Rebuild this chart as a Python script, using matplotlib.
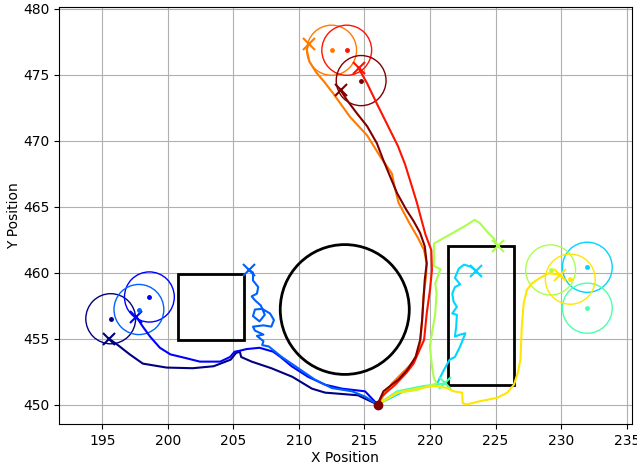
import numpy as np
import matplotlib
matplotlib.use("Agg")
import matplotlib.pyplot as plt
from matplotlib.patches import Circle, Rectangle

# start point shared by all agents
start = (216.0, 450.0)

# goal centres (one per agent, jet order)
goal_x = [195.65, 198.6, 197.8, 232.0, 232.0, 229.2, 230.7, 212.5, 213.65, 214.75]
goal_y = [456.5, 458.15, 457.2, 460.4, 457.3, 460.2, 459.5, 476.85, 476.85, 474.55]
goal_r = 1.9

# static obstacles
obs_circle = (213.5, 457.2, 4.92)
obs_rects = [(200.8, 454.9, 5.0, 5.0), (221.35, 451.5, 5.05, 10.5)]

# trajectories, start -> final position
navy_x = [216.0, 214.5, 212.0, 211.0, 209.5, 207.9, 206.4, 205.6, 205.5, 205.2, 204.8,
          203.5, 201.9, 199.9, 198.1, 197.1, 196.2, 195.5]
navy_y = [450.0, 450.7, 450.9, 451.2, 452.1, 452.75, 453.25, 453.6, 454.0, 453.9, 453.4,
          452.9, 452.75, 452.8, 453.1, 453.8, 454.5, 455.0]

blue_x = [216.0, 215.05, 213.3, 212.0, 210.7, 209.45, 208.6, 208.05, 207.0, 206.0, 205.6,
          205.1, 204.75, 204.0, 202.45, 201.45, 200.2, 199.4, 198.65, 198.1, 197.6]
blue_y = [450.0, 451.0, 451.2, 451.5, 452.1, 452.9, 453.6, 454.0, 454.3, 454.2, 454.1,
          454.0, 453.6, 453.25, 453.25, 453.5, 453.8, 454.3, 455.15, 455.9, 456.65]

dodger_x = [216.0, 215.05, 214.05, 212.5, 211.2, 209.95, 208.7, 207.7, 207.2, 207.3, 206.8,
            207.3, 206.65, 206.5, 207.3, 207.9, 208.1, 207.8, 207.2, 206.65, 206.5,
            207.0, 207.4, 207.1, 206.65, 206.4, 206.8, 206.9, 206.5, 206.5, 206.2]
dodger_y = [450.0, 450.6, 451.0, 451.25, 451.9, 452.75, 453.6, 454.4, 454.5, 454.8, 455.2,
            455.3, 455.6, 455.9, 456.0, 455.9, 456.4, 456.9, 457.25, 457.2, 456.7,
            456.3, 456.8, 457.5, 457.9, 458.2, 458.4, 458.9, 459.4, 460.0, 460.2]

cyan_x = [216.0, 218.0, 219.0, 220.5, 221.0, 221.5, 221.9, 222.3, 222.7, 222.3, 221.9,
          222.0, 222.05, 221.7, 222.05, 221.8, 221.7, 221.9, 222.3, 221.9, 222.2,
          222.6, 223.1, 223.5]
cyan_y = [450.0, 451.0, 451.25, 451.5, 452.5, 453.4, 453.6, 454.4, 455.4, 455.3, 455.15,
          455.9, 456.8, 456.9, 457.4, 457.8, 458.4, 458.9, 459.1, 459.6, 460.3,
          460.6, 460.45, 460.15]

aqua_x = [216.0, 217.5, 219.5, 220.4, 221.15]
aqua_y = [450.0, 451.0, 451.4, 451.5, 451.6]

lime_x = [216.0, 217.6, 219.0, 220.5, 220.3, 220.15, 220.0, 220.15, 220.4, 220.5, 220.4,
          220.8, 220.3, 220.3, 221.55, 222.8, 223.4, 223.8, 224.35, 224.85, 225.2]
lime_y = [450.0, 450.9, 451.1, 451.6, 452.0, 452.9, 454.4, 455.4, 456.9, 458.4, 459.2,
          460.25, 460.5, 462.2, 462.9, 463.6, 464.0, 463.75, 463.1, 462.6, 462.0]

yellow_x = [216.0, 217.5, 219.3, 220.3, 221.3, 221.8, 222.45, 222.5, 222.8, 223.8, 225.1,
            225.9, 226.4, 226.7, 226.9, 227.0, 227.15, 227.4, 227.8, 228.4, 229.05, 229.9]
yellow_y = [450.0, 450.9, 451.25, 451.4, 451.25, 451.0, 450.9, 450.1, 450.0, 450.25, 450.5,
            450.9, 451.5, 452.4, 453.4, 455.9, 457.7, 458.7, 459.2, 459.6, 459.95, 459.85]

orange_x = [216.0, 216.6, 217.1, 218.1, 218.6, 219.0, 219.25, 219.4, 219.5, 219.7, 219.75,
            219.55, 219.1, 218.4, 217.6, 217.3, 217.1, 216.2, 215.2, 213.9, 212.6,
            211.9, 211.3, 210.8, 210.6, 210.75]
orange_y = [450.0, 450.9, 451.6, 452.6, 453.1, 453.75, 454.65, 456.4, 458.2, 459.7, 460.7,
            461.7, 462.6, 463.8, 465.3, 466.5, 467.5, 468.8, 470.4, 471.8, 473.6,
            474.5, 475.2, 476.0, 476.9, 477.35]

red_x = [216.0, 216.3, 217.35, 218.2, 218.75, 219.1, 219.55, 219.75, 220.0, 220.15, 220.1,
         219.65, 219.35, 219.0, 218.6, 218.1, 217.55, 216.7, 215.95, 215.2, 214.55]
red_y = [450.0, 450.6, 451.5, 452.4, 453.1, 453.9, 454.9, 456.9, 458.7, 460.2, 461.7,
         462.9, 464.0, 465.3, 466.6, 468.2, 469.6, 471.3, 472.8, 474.35, 475.5]

maroon_x = [216.0, 216.45, 217.6, 218.25, 218.9, 219.25, 219.4, 219.5, 219.6, 219.75,
            219.6, 219.25, 218.75, 218.2, 217.5, 216.95, 216.45, 215.95, 215.2, 214.4,
            213.65, 213.2]
maroon_y = [450.0, 451.0, 451.9, 452.6, 453.6, 454.9, 456.4, 457.9, 459.45, 460.7,
            462.0, 463.0, 463.9, 464.75, 466.0, 467.3, 468.5, 469.8, 471.1, 472.1,
            473.1, 473.8]

paths_x = [navy_x, blue_x, dodger_x, cyan_x, aqua_x, lime_x, yellow_x, orange_x, red_x, maroon_x]
paths_y = [navy_y, blue_y, dodger_y, cyan_y, aqua_y, lime_y, yellow_y, orange_y, red_y, maroon_y]

colors = plt.cm.jet(np.linspace(0, 1, len(paths_x)))

fig = plt.figure(figsize=(6.37, 4.66), dpi=100)
ax = fig.add_axes([0.0925, 0.0895, 0.8995, 0.8961])

# obstacles
cx, cy, cr = obs_circle
ax.add_patch(Circle((cx, cy), cr, fill=False, edgecolor="black", linewidth=2))
for rx, ry, rw, rh in obs_rects:
    ax.add_patch(Rectangle((rx, ry), rw, rh, fill=False, edgecolor="black", linewidth=2))

for i, c in enumerate(colors):
    ax.plot(paths_x[i], paths_y[i], color=c, linewidth=1.5)
    ax.plot(paths_x[i][-1], paths_y[i][-1], marker="x", color=c, markersize=8,
            markeredgewidth=1.5)
    ax.add_patch(Circle((goal_x[i], goal_y[i]), goal_r, fill=False, edgecolor=c, linewidth=1))
    ax.plot(goal_x[i], goal_y[i], "o", color=c, markersize=2.5)

ax.plot(start[0], start[1], "o", color=colors[-1], markersize=6)

ax.set_xlim(191.7, 235.4)
ax.set_ylim(448.5, 480.15)
ax.set_xticks(np.arange(195, 236, 5))
ax.set_yticks(np.arange(450, 481, 5))
ax.grid(True)
ax.set_axisbelow(True)
ax.set_xlabel("X Position", labelpad=2)
ax.set_ylabel("Y Position", labelpad=1.5)

fig.savefig("out.png", dpi=100)
